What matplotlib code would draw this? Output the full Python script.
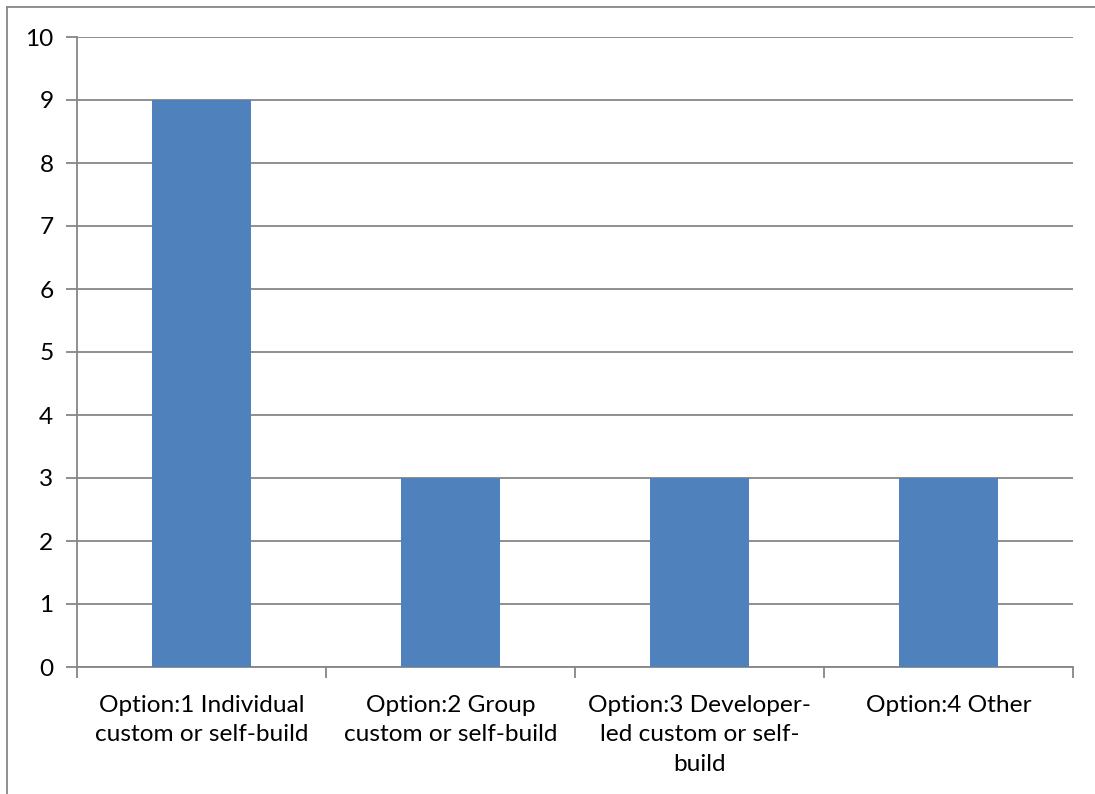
import matplotlib
matplotlib.use("Agg")
import matplotlib.pyplot as plt
from matplotlib.lines import Line2D

categories = [
    "Option:1 Individual\ncustom or self-build",
    "Option:2 Group\ncustom or self-build",
    "Option:3 Developer-\nled custom or self-\nbuild",
    "Option:4 Other",
]
values = [9, 3, 3, 3]
y_ticks = list(range(0, 11))

plt.rcParams["font.family"] = ["Lato", "DejaVu Sans"]

W, H = 1095, 794
fig = plt.figure(figsize=(W / 100, H / 100), dpi=100)
ax = fig.add_axes([77 / W, 1 - 667 / H, (1073 - 77) / W, (667 - 37) / H])

grid_c = "#868686"
bar_c = "#4F81BD"

x = list(range(len(values)))
ax.bar(x, values, width=0.4, color=bar_c, zorder=3)
ax.set_xlim(-0.5, len(values) - 0.5)
ax.set_ylim(0, 10)

ax.set_yticks(y_ticks)
ax.set_yticklabels([str(t) for t in y_ticks])
ax.yaxis.grid(True, color=grid_c, linewidth=1.3, zorder=0)
ax.set_axisbelow(True)

# category labels centred under each bar, tick marks on category boundaries
ax.set_xticks(x)
ax.set_xticklabels(categories, linespacing=1.5, va="top")
ax.tick_params(axis="x", length=0, pad=20)
ax.set_xticks([i - 0.5 for i in range(len(values) + 1)], minor=True)
ax.tick_params(axis="x", which="minor", length=8, width=1.3, color=grid_c)
ax.tick_params(axis="y", length=8, width=1.3, color=grid_c, pad=9)
ax.tick_params(labelsize=17.6, labelcolor="black")

for side in ("top", "right"):
    ax.spines[side].set_visible(False)
for side in ("left", "bottom"):
    ax.spines[side].set_color(grid_c)
    ax.spines[side].set_linewidth(1.3)

# outer chart-area border (top and left edges fall inside the canvas)
fig.lines.append(Line2D([7 / W, 1.0], [1 - 7 / H, 1 - 7 / H],
                        transform=fig.transFigure, color=grid_c, linewidth=1.3))
fig.lines.append(Line2D([7 / W, 7 / W], [0.0, 1 - 7 / H],
                        transform=fig.transFigure, color=grid_c, linewidth=1.3))

fig.savefig("out.png", dpi=100)
